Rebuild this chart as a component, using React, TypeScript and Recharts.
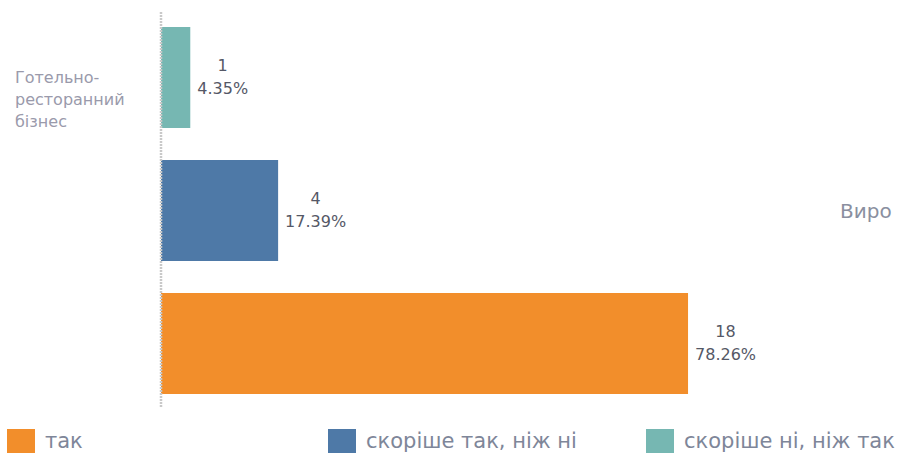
import { Bar, BarChart, LabelList, Legend, XAxis, YAxis } from "recharts";

const categories = ["Готельно-ресторанний бізнес"];
const categoryLines = [["Готельно-", "ресторанний", "бізнес"]];
const seriesNames = ["так", "скоріше так, ніж ні", "скоріше ні, ніж так"];
const tak = [18];
const skorisheTak = [4];
const skorisheNi = [1];
const takPct = ["78.26%"];
const skorisheTakPct = ["17.39%"];
const skorisheNiPct = ["4.35%"];
const xDomain = [0, 25];
const nextPanelLabel = "Виро";

const COLORS = ["#f28e2b", "#4e79a7", "#76b7b2"];
const LEGEND_X = [7, 328, 646];
const FONT = "'DejaVu Sans', Verdana, sans-serif";

const data = categories.map((name, i) => ({
  name,
  tak: tak[i],
  skorisheTak: skorisheTak[i],
  skorisheNi: skorisheNi[i],
}));

// rough DejaVu Sans advance widths, enough to centre the count over the percent
function pctWidth(s: string, size: number) {
  let w = 0;
  for (const ch of s) w += ch === "." ? 0.318 : ch === "%" ? 0.95 : 0.636;
  return w * size;
}

function valueLabel(pcts: string[]) {
  return (props: any) => {
    const { x, y, width, height, value, index } = props;
    const pct = pcts[index ?? 0];
    const cx = Number(x) + Number(width) + 7 + pctWidth(pct, 16) / 2;
    const cy = Number(y) + Number(height) / 2;
    return (
      <text fontFamily={FONT} fontSize={16} fill="#555866" textAnchor="middle">
        <tspan x={cx} y={cy - 6.5}>{value}</tspan>
        <tspan x={cx} y={cy + 16.5}>{pct}</tspan>
      </text>
    );
  };
}

function CategoryTick(props: any) {
  const { y, payload } = props;
  const idx = categories.indexOf(payload.value);
  const lines = categoryLines[idx] ?? [payload.value];
  return (
    <text fontFamily={FONT} fontSize={16} fill="#9a9aab">
      {lines.map((l, i) => (
        <tspan key={i} x={15} y={y - 127 + i * 22}>
          {l}
        </tspan>
      ))}
    </text>
  );
}

function LegendContent() {
  return (
    <div style={{ position: "relative", width: 901, height: 0 }}>
      {seriesNames.map((n, i) => (
        <div
          key={n}
          style={{
            position: "absolute",
            left: LEGEND_X[i],
            top: 429,
            display: "flex",
            alignItems: "flex-start",
            whiteSpace: "nowrap",
          }}
        >
          <span style={{ display: "inline-block", width: 28, height: 28, background: COLORS[i] }} />
          <span
            style={{
              marginLeft: 10,
              fontFamily: FONT,
              fontSize: 21,
              lineHeight: "24px",
              color: "#7e8699",
            }}
          >
            {n}
          </span>
        </div>
      ))}
    </div>
  );
}

export default function App() {
  return (
    <div
      style={{
        position: "absolute",
        left: 0,
        top: 0,
        width: 901,
        height: 453,
        overflow: "hidden",
        background: "#ffffff",
      }}
    >
      <BarChart
        width={901}
        height={453}
        data={data}
        layout="vertical"
        margin={{ top: 12, right: 8, bottom: 45, left: 0 }}
        barSize={101}
        barGap={32}
      >
        <XAxis type="number" domain={xDomain} hide />
        <YAxis
          type="category"
          dataKey="name"
          width={161}
          tickLine={false}
          axisLine={{ stroke: "#c9c9c9", strokeWidth: 2.5, strokeDasharray: "2 1" }}
          tick={<CategoryTick />}
        />
        <Legend
          content={<LegendContent />}
          wrapperStyle={{ left: 0, top: 0, width: 901, height: 0 }}
        />
        <Bar dataKey="skorisheNi" name={seriesNames[2]} fill={COLORS[2]} isAnimationActive={false}>
          <LabelList dataKey="skorisheNi" content={valueLabel(skorisheNiPct)} />
        </Bar>
        <Bar dataKey="skorisheTak" name={seriesNames[1]} fill={COLORS[1]} isAnimationActive={false}>
          <LabelList dataKey="skorisheTak" content={valueLabel(skorisheTakPct)} />
        </Bar>
        <Bar dataKey="tak" name={seriesNames[0]} fill={COLORS[0]} isAnimationActive={false}>
          <LabelList dataKey="tak" content={valueLabel(takPct)} />
        </Bar>
      </BarChart>
      <svg
        width={901}
        height={453}
        style={{ position: "absolute", left: 0, top: 0, pointerEvents: "none" }}
      >
        <text x={840} y={218} fontFamily={FONT} fontSize={20} fill="#8a8fa0">
          {nextPanelLabel}
        </text>
      </svg>
    </div>
  );
}
